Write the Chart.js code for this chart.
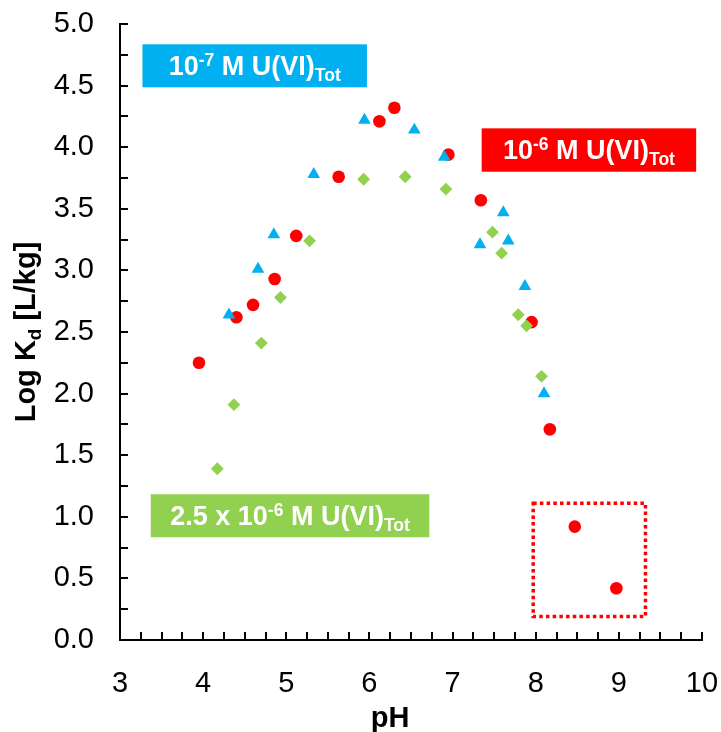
<!DOCTYPE html>
<html>
<head>
<meta charset="utf-8">
<script src="https://cdn.jsdelivr.net/npm/chart.js@4.4.1/dist/chart.umd.min.js"></script>
<style>
  html, body { margin: 0; padding: 0; background: #fff; }
</style>
</head>
<body>
<canvas id="chart" width="721" height="732"></canvas>
<script>
// 10^-7 M U(VI)tot
const phBlue = [4.31, 4.66, 4.85, 5.33, 5.94, 6.54, 6.90, 7.33, 7.61, 7.67, 7.87, 8.10]
const kdBlue = [2.64, 3.01, 3.29, 3.78, 4.22, 4.14, 3.92, 3.21, 3.47, 3.24, 2.87, 2.00]
// 10^-6 M U(VI)tot
const phRed = [3.95, 4.40, 4.60, 4.86, 5.12, 5.63, 6.12, 6.30, 6.95, 7.34, 7.95, 8.17, 8.47, 8.97]
const kdRed = [2.25, 2.62, 2.72, 2.93, 3.28, 3.76, 4.21, 4.32, 3.94, 3.57, 2.58, 1.71, 0.92, 0.42]
// 2.5 x 10^-6 M U(VI)tot
const phGreen = [4.17, 4.37, 4.70, 4.93, 5.28, 5.93, 6.43, 6.92, 7.48, 7.59, 7.79, 7.89, 8.07]
const kdGreen = [1.39, 1.91, 2.41, 2.78, 3.24, 3.74, 3.76, 3.66, 3.31, 3.14, 2.64, 2.55, 2.14]

const xTicks = [3, 4, 5, 6, 7, 8, 9, 10]
const yTicks = [0, 0.5, 1, 1.5, 2, 2.5, 3, 3.5, 4, 4.5, 5]

const BLUE = "#00B0F0"
const RED = "#FF0000"
const GREEN = "#92D050"
const FONT = "Arial, 'Liberation Sans', sans-serif"

const toPoints = (xs, ys) => xs.map((x, i) => ({ x: x, y: ys[i] }))

// label boxes, in data units
const labels = [
  { x0: 3.27, x1: 5.97, y0: 4.835, y1: 4.486, color: BLUE, parts: [["10", 0], ["-7", 1], [" M U(VI)", 0], ["Tot", -1]] },
  { x0: 7.35, x1: 9.93, y0: 4.153, y1: 3.801, color: RED, parts: [["10", 0], ["-6", 1], [" M U(VI)", 0], ["Tot", -1]] },
  { x0: 3.37, x1: 6.72, y0: 1.183, y1: 0.834, color: GREEN, parts: [["2.5 x 10", 0], ["-6", 1], [" M U(VI)", 0], ["Tot", -1]] },
]
const outlierBox = { x0: 7.97, x1: 9.32, y0: 1.11, y1: 0.19 }

function richText(ctx, parts, x, y, size, bold) {
  const w = bold ? "bold " : ""
  let total = 0
  parts.forEach(([t, k]) => {
    ctx.font = w + (k ? size * 0.65 : size) + "px " + FONT
    total += ctx.measureText(t).width
  })
  let cx = x - total / 2
  ctx.textAlign = "left"
  ctx.textBaseline = "alphabetic"
  parts.forEach(([t, k]) => {
    ctx.font = w + (k ? size * 0.65 : size) + "px " + FONT
    const dy = k === 1 ? -size * 0.36 : k === -1 ? size * 0.22 : 0
    ctx.fillText(t, cx, y + dy)
    cx += ctx.measureText(t).width
  })
}

const decor = {
  id: "decor",
  afterDatasetsDraw(chart) {
    const ctx = chart.ctx
    const xs = chart.scales.x
    const ys = chart.scales.y
    const area = chart.chartArea
    ctx.save()

    // inward tick marks every 0.25
    ctx.strokeStyle = "#000"
    ctx.lineWidth = 2
    ctx.beginPath()
    for (let v = 3.25; v <= 10.001; v += 0.25) {
      const px = Math.round(xs.getPixelForValue(v))
      ctx.moveTo(px, area.bottom)
      ctx.lineTo(px, area.bottom - 8)
    }
    for (let v = 0.25; v <= 5.001; v += 0.25) {
      const py = Math.round(ys.getPixelForValue(v))
      ctx.moveTo(area.left, py)
      ctx.lineTo(area.left + 8, py)
    }
    ctx.stroke()

    // dotted box round the two outliers
    ctx.strokeStyle = RED
    ctx.lineWidth = 3.5
    ctx.setLineDash([3.5, 3.2])
    const bx = xs.getPixelForValue(outlierBox.x0)
    const by = ys.getPixelForValue(outlierBox.y0)
    ctx.strokeRect(bx, by, xs.getPixelForValue(outlierBox.x1) - bx, ys.getPixelForValue(outlierBox.y1) - by)
    ctx.setLineDash([])

    // series labels
    labels.forEach(l => {
      const x0 = xs.getPixelForValue(l.x0)
      const x1 = xs.getPixelForValue(l.x1)
      const y0 = ys.getPixelForValue(l.y0)
      const y1 = ys.getPixelForValue(l.y1)
      ctx.fillStyle = l.color
      ctx.fillRect(x0, y0, x1 - x0, y1 - y0)
      ctx.fillStyle = "#fff"
      richText(ctx, l.parts, (x0 + x1) / 2, y0 + 31, 27, true)
    })

    // axis titles
    ctx.fillStyle = "#000"
    ctx.font = "bold 29px " + FONT
    ctx.textAlign = "center"
    ctx.fillText("pH", 390, 727)

    ctx.translate(35, (area.top + area.bottom) / 2)
    ctx.rotate(-Math.PI / 2)
    richText(ctx, [["Log K", 0], ["d", -1], [" [L/kg]", 0]], 0, 0, 29, true)
    ctx.restore()
  },
}

new Chart(document.getElementById("chart"), {
  type: "scatter",
  data: {
    datasets: [
      {
        label: "1e-7",
        data: toPoints(phBlue, kdBlue),
        pointStyle: "triangle",
        pointRadius: 7.3,
        backgroundColor: BLUE,
        borderWidth: 0,
      },
      {
        label: "2.5e-6",
        data: toPoints(phGreen, kdGreen),
        pointStyle: "rectRot",
        pointRadius: 6.4,
        backgroundColor: GREEN,
        borderWidth: 0,
      },
      {
        label: "1e-6",
        data: toPoints(phRed, kdRed),
        pointStyle: "circle",
        pointRadius: 6.3,
        backgroundColor: RED,
        borderWidth: 0,
      },
    ],
  },
  options: {
    responsive: false,
    animation: false,
    layout: { padding: { left: 0, top: 24, right: 19, bottom: 0 } },
    plugins: {
      legend: { display: false },
      tooltip: { enabled: false },
    },
    scales: {
      x: {
        type: "linear",
        min: 3,
        max: 10,
        afterBuildTicks: s => { s.ticks = xTicks.map(v => ({ value: v })) },
        afterFit: s => {
          s.height = 92
          s.paddingLeft = 0
          s.paddingRight = 0
        },
        grid: { display: false, drawTicks: false },
        border: { display: true, color: "#000", width: 2 },
        ticks: {
          color: "#000",
          padding: 27,
          font: { family: FONT, size: 29 },
          callback: v => String(v),
        },
      },
      y: {
        type: "linear",
        min: 0,
        max: 5,
        afterBuildTicks: s => { s.ticks = yTicks.map(v => ({ value: v })) },
        afterFit: s => {
          s.width = 120
          s.paddingTop = 0
          s.paddingBottom = 0
        },
        grid: { display: false, drawTicks: false },
        border: { display: true, color: "#000", width: 2 },
        ticks: {
          color: "#000",
          padding: 26,
          font: { family: FONT, size: 29 },
          callback: v => v.toFixed(1),
        },
      },
    },
  },
  plugins: [decor],
})
</script>
</body>
</html>
